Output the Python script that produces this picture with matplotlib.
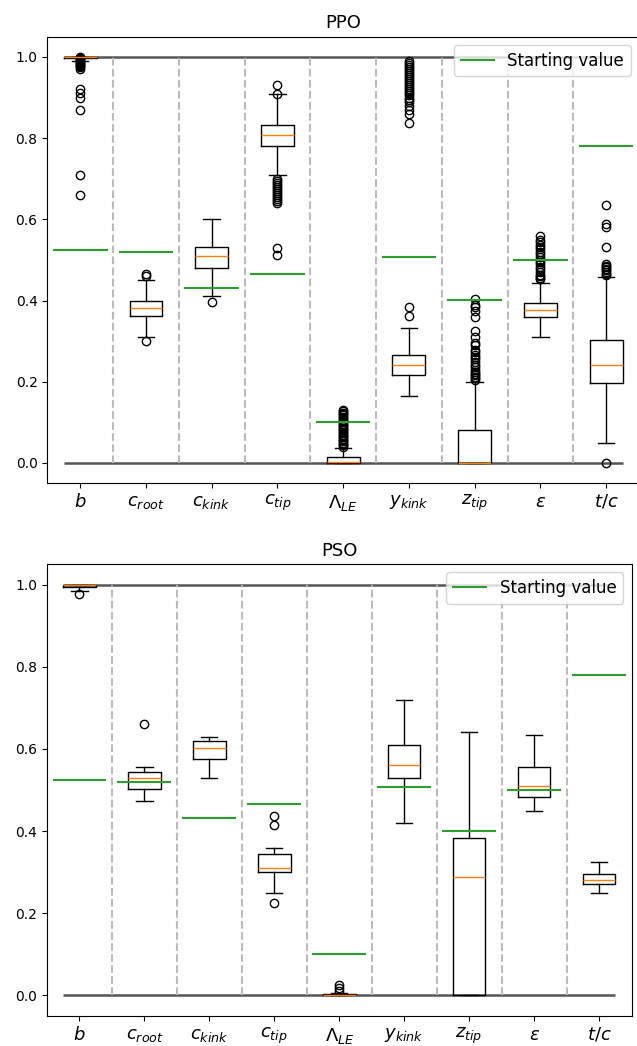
import matplotlib
matplotlib.use('Agg')
import matplotlib.pyplot as plt

# design variables (tick labels)
names = [r'$b$', r'$c_{root}$', r'$c_{kink}$', r'$c_{tip}$', r'$\Lambda_{LE}$',
         r'$y_{kink}$', r'$z_{tip}$', r'$\varepsilon$', r'$t/c$']

# normalised starting values (same for both optimisers)
start_vals = [0.524, 0.52, 0.432, 0.465, 0.1, 0.507, 0.401, 0.501, 0.781]

# PPO box statistics
ppo_q1 = [0.997, 0.363, 0.481, 0.780, 0.0, 0.217, 0.0, 0.360, 0.197]
ppo_med = [0.999, 0.382, 0.509, 0.807, 0.002, 0.242, 0.0, 0.376, 0.242]
ppo_q3 = [1.0, 0.400, 0.533, 0.832, 0.015, 0.267, 0.080, 0.394, 0.302]
ppo_lo = [0.99, 0.309, 0.412, 0.708, 0.0, 0.166, 0.0, 0.309, 0.048]
ppo_hi = [1.0, 0.450, 0.600, 0.909, 0.037, 0.333, 0.200, 0.443, 0.458]
ppo_fliers = [
    [1.0, 0.998, 0.995, 0.993, 0.99, 0.987, 0.985, 0.982, 0.98, 0.977, 0.975, 0.97,
     0.92, 0.91, 0.90, 0.87, 0.71, 0.66],
    [0.465, 0.46, 0.30],
    [0.397],
    [0.93, 0.908, 0.70, 0.695, 0.69, 0.685, 0.68, 0.675, 0.67, 0.665, 0.66, 0.655,
     0.65, 0.645, 0.64, 0.53, 0.513],
    [0.13, 0.127, 0.124, 0.12, 0.117, 0.114, 0.11, 0.106, 0.103, 0.1, 0.096, 0.093,
     0.09, 0.086, 0.083, 0.08, 0.076, 0.073, 0.07, 0.066, 0.063, 0.06, 0.056, 0.053,
     0.05, 0.046, 0.043, 0.04],
    [0.99, 0.985, 0.98, 0.975, 0.97, 0.965, 0.96, 0.955, 0.95, 0.945, 0.94, 0.935,
     0.93, 0.925, 0.92, 0.915, 0.91, 0.905, 0.90, 0.895, 0.89, 0.88, 0.87, 0.86,
     0.837, 0.383, 0.361],
    [0.405, 0.39, 0.385, 0.375, 0.36, 0.325, 0.31, 0.296, 0.29, 0.279, 0.273, 0.267,
     0.261, 0.255, 0.248, 0.242, 0.236, 0.23, 0.225, 0.22, 0.216, 0.212, 0.208, 0.204],
    [0.558, 0.55, 0.544, 0.538, 0.532, 0.526, 0.52, 0.514, 0.508, 0.501, 0.495,
     0.489, 0.483, 0.477, 0.47, 0.464, 0.46, 0.456, 0.452],
    [0.635, 0.588, 0.58, 0.531, 0.49, 0.486, 0.482, 0.478, 0.474, 0.47, 0.466,
     0.462, 0.0],
]

# PSO box statistics
pso_q1 = [0.995, 0.503, 0.576, 0.301, 0.0, 0.528, 0.0, 0.484, 0.270]
pso_med = [0.998, 0.528, 0.602, 0.310, 0.001, 0.562, 0.289, 0.509, 0.282]
pso_q3 = [1.0, 0.543, 0.620, 0.344, 0.003, 0.610, 0.383, 0.555, 0.295]
pso_lo = [0.985, 0.473, 0.528, 0.249, 0.0, 0.420, 0.0, 0.448, 0.249]
pso_hi = [1.0, 0.555, 0.629, 0.360, 0.006, 0.718, 0.641, 0.633, 0.325]
pso_fliers = [
    [0.976],
    [0.66],
    [],
    [0.436, 0.416, 0.225],
    [0.025, 0.018, 0.012],
    [],
    [],
    [],
    [],
]


def make_stats(q1, med, q3, lo, hi, fliers):
    stats = []
    for i in range(len(q1)):
        stats.append({'q1': q1[i], 'med': med[i], 'q3': q3[i],
                      'whislo': lo[i], 'whishi': hi[i], 'fliers': fliers[i]})
    return stats


def draw_panel(ax, stats, title):
    n = len(names)
    pos = list(range(1, n + 1))
    # bounds of the normalised range
    ax.hlines([0, 1], 0.75, n + 0.25, colors='#555555', linewidth=1.8, zorder=1)
    # separators between variables
    for k in range(1, n):
        ax.vlines(k + 0.5, 0, 1, colors='#bbbbbb', linestyles='--', linewidth=1.5, zorder=1)
    ax.bxp(stats, positions=pos, widths=0.5, manage_ticks=False,
           medianprops={'color': 'tab:orange'})
    for i, v in enumerate(start_vals):
        ax.plot([pos[i] - 0.4, pos[i] + 0.4], [v, v], color='tab:green', linewidth=1.5,
                label='Starting value' if i == 0 else None, zorder=3)
    ax.set_xticks(pos)
    ax.set_xticklabels(names, fontsize=13)
    ax.set_xlim(0.5, n + 0.5)
    ax.set_ylim(-0.05, 1.05)
    ax.set_title(title, fontsize=13)
    ax.legend(loc='upper right', fontsize=12)


fig = plt.figure(figsize=(6.37, 10.46), dpi=100)
ax1 = fig.add_axes([0.0743, 0.538, 0.9289, 0.427])
ax2 = fig.add_axes([0.0738, 0.0287, 0.9176, 0.4321])

draw_panel(ax1, make_stats(ppo_q1, ppo_med, ppo_q3, ppo_lo, ppo_hi, ppo_fliers), 'PPO')
draw_panel(ax2, make_stats(pso_q1, pso_med, pso_q3, pso_lo, pso_hi, pso_fliers), 'PSO')

fig.savefig('out.png', dpi=100)
plt.close(fig)
